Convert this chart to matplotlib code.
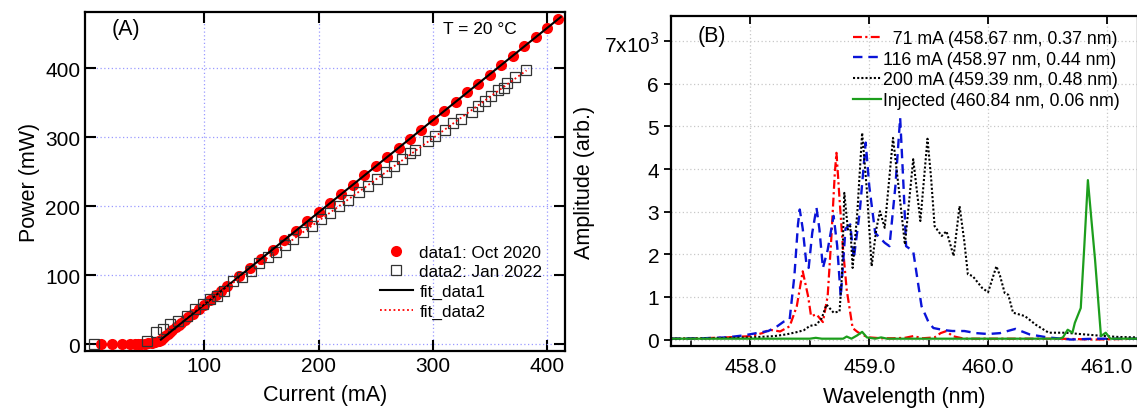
import matplotlib
matplotlib.use('Agg')
import matplotlib.pyplot as plt
from matplotlib.ticker import MultipleLocator

plt.rcParams['font.family'] = ['Liberation Sans', 'DejaVu Sans']

# ---- Panel A data: L-I curves (current mA, power mW)
cur1 = [10, 19, 28, 35, 39, 42, 45, 48, 51, 54, 57, 60, 62, 64, 66, 68, 70, 72, 75, 78,
        80, 83, 86, 90, 95, 100, 105, 110, 115, 120, 130, 140, 150, 160, 170, 180, 190,
        200, 210, 220, 230, 240, 250, 260, 270, 280, 290, 300, 310, 320, 330, 340, 350,
        360, 370, 380, 390, 400, 410]
pow1 = [0, 0, 0, 0, 0, 0, 0.5, 0.5, 1, 1.5, 2.5, 4, 6, 8.5, 11.5, 14, 17, 20, 24, 28,
        31, 35, 39, 44, 51, 57, 64, 71, 77, 84, 98, 111, 124, 137, 151, 164, 178,
        191, 204, 218, 231, 245, 258, 271, 285, 298, 311, 325, 338, 351, 365, 378, 391,
        405, 418, 432, 445, 458, 472]

cur2 = [3, 50, 58, 64, 70, 77, 85, 92, 99, 105, 111, 117, 125, 133, 141, 148, 156, 163,
        171, 178, 186, 194, 202, 210, 218, 226, 235, 243, 251, 259, 266, 273, 280, 284,
        296, 302, 311, 318, 325, 334, 340, 346, 351, 357, 362, 365, 372, 382]
pow2 = [0, 4, 18, 22, 29, 34, 41, 51, 58, 65, 70, 77, 92, 97, 106, 117, 126, 134,
        144, 152, 162, 171, 181, 190, 200, 209, 220, 230, 239, 249, 258, 268, 277, 282,
        295, 302, 311, 320, 327, 337, 346, 353, 360, 368, 372, 379, 387, 398]

fit1_cur = [62, 412]
fit1_pow = [6.4, 474.5]
fit2_cur = [58, 382]
fit2_pow = [8.2, 397]

# ---- Panel B data: spectra (wavelength nm, amplitude in 10^3 arb.)
lam71 = [457.33, 457.6, 457.8, 458.0, 458.1, 458.16, 458.25, 458.33, 458.39, 458.44,
         458.485, 458.51, 458.556, 458.61, 458.65, 458.68, 458.71, 458.724, 458.75,
         458.78, 458.81, 458.86, 458.9, 458.95, 459.0, 459.1, 459.2, 459.3, 459.37,
         459.45, 459.55, 459.6, 459.65, 459.7, 459.8, 460.0, 460.3, 460.6, 460.9, 461.26]
amp71 = [0.02, 0.03, 0.05, 0.08, 0.15, 0.23, 0.19, 0.31, 0.78, 1.6,
         1.02, 0.55, 0.59, 0.41, 1.02, 2.35, 3.9, 4.38, 3.29,
         2.1, 1.17, 0.27, 0.18, 0.1, 0.05, 0.03, 0.03, 0.04, 0.08,
         0.03, 0.05, 0.15, 0.2, 0.08, 0.02, 0.02, 0.02, 0.02, 0.0, 0.02]

lam116 = [457.33, 457.6, 457.8, 457.95, 458.05, 458.15, 458.22, 458.28, 458.33, 458.37,
          458.4, 458.415, 458.44, 458.47, 458.49, 458.52, 458.556, 458.58, 458.61,
          458.65, 458.7, 458.73, 458.76, 458.8, 458.84, 458.87, 458.92, 458.97, 459.0,
          459.05, 459.13, 459.17, 459.22, 459.26, 459.29, 459.31, 459.37, 459.44, 459.5,
          459.54, 459.63, 459.7, 459.8, 459.9, 460.0, 460.1, 460.23, 460.35, 460.5,
          460.7, 460.9, 461.26]
amp116 = [0.02, 0.03, 0.05, 0.1, 0.15, 0.2, 0.3, 0.42, 0.47, 1.5,
          2.7, 3.05, 2.6, 1.8, 1.68, 2.5, 3.09, 2.6, 1.68,
          2.1, 2.9, 2.2, 1.0, 2.6, 2.7, 1.9, 3.0, 4.62, 3.6,
          2.5, 2.27, 2.19, 3.6, 5.2, 3.5, 2.19, 2.07, 0.78, 0.4,
          0.27, 0.22, 0.2, 0.2, 0.15, 0.13, 0.15, 0.25, 0.12, 0.05,
          0.0, 0.02, 0.02]

lam200 = [457.33, 457.7, 458.0, 458.2, 458.3, 458.4, 458.45, 458.5, 458.556, 458.6,
          458.64, 458.7, 458.75, 458.77, 458.79, 458.82, 458.84, 458.86, 458.9, 458.94,
          458.98, 459.02, 459.06, 459.09, 459.13, 459.2, 459.25, 459.3, 459.37, 459.43,
          459.49, 459.52, 459.55, 459.61, 459.65, 459.71, 459.76, 459.8, 459.83, 459.87,
          459.95, 460.0, 460.07, 460.1, 460.14, 460.17, 460.21, 460.31, 460.4, 460.51,
          460.65, 460.77, 460.9, 460.99, 461.1, 461.26]
amp200 = [0.02, 0.03, 0.05, 0.08, 0.12, 0.18, 0.22, 0.32, 0.35, 0.5,
          0.82, 0.63, 0.66, 1.5, 3.44, 2.58, 2.66, 1.68, 3.0, 4.85,
          3.5, 1.72, 2.6, 3.01, 2.62, 4.73, 3.5, 2.23, 4.23, 2.78,
          4.71, 3.8, 2.66, 2.43, 2.54, 1.96, 3.13, 2.3, 1.53, 1.49,
          1.21, 1.11, 1.72, 1.5, 1.09, 1.05, 0.63, 0.55, 0.35, 0.16,
          0.16, 0.13, 0.1, 0.08, 0.06, 0.05]

lam_inj = [457.33, 458.5, 458.55, 458.6, 458.78, 458.81, 458.85, 458.9, 458.94, 458.98,
           459.05, 459.1, 459.15, 460.6, 460.63, 460.67, 460.71, 460.73, 460.78, 460.81,
           460.84, 460.87, 460.9, 460.95, 460.99, 461.03, 461.26]
amp_inj = [0.02, 0.02, 0.04, 0.02, 0.02, 0.07, 0.02, 0.1, 0.18, 0.05,
           0.02, 0.05, 0.02, 0.02, 0.05, 0.23, 0.16, 0.39, 0.74, 2.2,
           3.74, 2.8, 1.88, 0.08, 0.16, 0.02, 0.02]

labels_b = ['  71 mA (458.67 nm, 0.37 nm)', '116 mA (458.97 nm, 0.44 nm)',
            '200 mA (459.39 nm, 0.48 nm)', 'Injected (460.84 nm, 0.06 nm)']
yticks_b = [0, 1, 2, 3, 4, 5, 6, 7]
yticklabels_b = ['0', '1', '2', '3', '4', '5', '6', '7x10$^3$']

fig = plt.figure(figsize=(11.37, 4.14), dpi=100)

# Panel A
ax1 = fig.add_axes([0.0748, 0.150, 0.422, 0.819])
ax1.plot(cur1, pow1, 'o', color='red', markersize=8, markeredgewidth=0, label='data1: Oct 2020', zorder=3)
ax1.plot(cur2, pow2, 's', markerfacecolor='none', markeredgecolor='#333333', markersize=7.5,
         markeredgewidth=0.9, label='data2: Jan 2022', zorder=4)
ax1.plot(fit1_cur, fit1_pow, '-', color='black', lw=1.5, label='fit_data1', zorder=5)
ax1.plot(fit2_cur, fit2_pow, color='red', lw=1.3, linestyle=(0, (1, 1.5)), label='fit_data2', zorder=5)
ax1.set_xlim(-4.4, 415.6)
ax1.set_ylim(-10, 482)
ax1.set_xticks([100, 200, 300, 400])
ax1.set_yticks([0, 100, 200, 300, 400])
ax1.grid(True, color='#9a9aff', linestyle=(0, (1, 2)), linewidth=0.9)
ax1.tick_params(direction='in', length=8, width=1.5, labelsize=15, top=True, right=True)
for s in ax1.spines.values():
    s.set_linewidth(1.6)
ax1.set_xlabel('Current (mA)', fontsize=15.5, labelpad=7)
ax1.set_ylabel('Power (mW)', fontsize=15.5, labelpad=4)
ax1.text(0.055, 0.95, '(A)', transform=ax1.transAxes, fontsize=15.5, va='center')
ax1.text(0.745, 0.95, 'T = 20 °C', transform=ax1.transAxes, fontsize=12.5, va='center')
ax1.legend(loc='lower right', bbox_to_anchor=(0.978, 0.058), frameon=False, fontsize=12.3,
           labelspacing=0.28, handlelength=1.9, handletextpad=0.4, borderpad=0.2)

# Panel B
ax2 = fig.add_axes([0.590, 0.162, 0.4107, 0.797])
ax2.plot(lam71, amp71, color='red', lw=1.6, linestyle=(0, (4, 1.5, 1, 1.5)), label=labels_b[0])
ax2.plot(lam116, amp116, color='#0a14d8', lw=1.7, linestyle=(0, (4, 2.5)), label=labels_b[1])
ax2.plot(lam200, amp200, color='black', lw=1.5, linestyle=(0, (1, 1)), label=labels_b[2])
ax2.plot(lam_inj, amp_inj, color='#1c9e1c', lw=1.6, label=labels_b[3])
ax2.set_xlim(457.33, 461.26)
ax2.set_ylim(-0.15, 7.59)
ax2.set_xticks([458.0, 459.0, 460.0, 461.0])
ax2.set_xticklabels(['458.0', '459.0', '460.0', '461.0'])
ax2.xaxis.set_minor_locator(MultipleLocator(0.5))
ax2.set_yticks(yticks_b)
ax2.set_yticklabels(yticklabels_b)
ax2.grid(True, color='#c8c8c8', linestyle=(0, (1, 2)), linewidth=0.9)
ax2.tick_params(axis='x', which='major', direction='in', length=6, width=1.3, labelsize=15,
                top=True, pad=8)
ax2.tick_params(axis='x', which='minor', direction='in', length=4, width=1.2, top=False)
ax2.tick_params(axis='y', direction='out', length=5, width=1.3, labelsize=15, right=True)
for s in ax2.spines.values():
    s.set_linewidth(1.6)
ax2.set_xlabel('Wavelength (nm)', fontsize=15.5, labelpad=7)
ax2.set_ylabel('Amplitude (arb.)', fontsize=15.5, labelpad=6)
ax2.text(0.058, 0.94, '(B)', transform=ax2.transAxes, fontsize=15.5, va='center')
ax2.legend(loc='upper right', bbox_to_anchor=(0.988, 0.995), frameon=False, fontsize=12.8,
           labelspacing=0.2, handlelength=1.6, handletextpad=0.1, borderpad=0.2)

fig.savefig('out.png', dpi=100)
